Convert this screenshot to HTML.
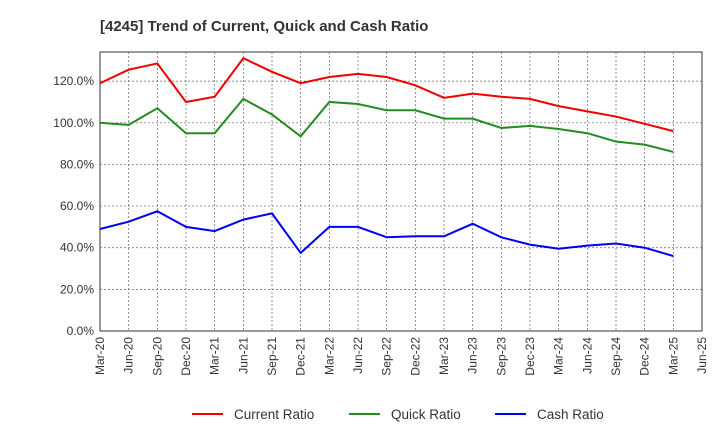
<!DOCTYPE html>
<html><head><meta charset="utf-8"><style>
body{margin:0;background:#fff;font-family:"Liberation Sans",sans-serif;}
svg text{font-family:"Liberation Sans",sans-serif;}
</style></head><body>
<svg width="720" height="440">
<text x="100" y="31" font-size="15" font-weight="bold" fill="#333">[4245]  Trend of Current, Quick and Cash Ratio</text>
<g id="grid"></g>
<g id="axes"></g>
<g id="series"></g>
<g id="legend"></g>
</svg>
<script>
const categories=["Mar-20","Jun-20","Sep-20","Dec-20","Mar-21","Jun-21","Sep-21","Dec-21","Mar-22","Jun-22","Sep-22","Dec-22","Mar-23","Jun-23","Sep-23","Dec-23","Mar-24","Jun-24","Sep-24","Dec-24","Mar-25","Jun-25"];
const currentRatio=[119,125.5,128.5,110,112.5,131,124.5,119,122,123.5,122,118,112,114,112.5,111.5,108,105.5,103,99.5,96];
const quickRatio=[100,99,107,95,95,111.5,104,93.5,110,109,106,106,102,102,97.5,98.5,97,95,91,89.5,86];
const cashRatio=[49,52.5,57.5,50,48,53.5,56.5,37.5,50,50,45,45.5,45.5,51.5,45,41.5,39.5,41,42,40,36];
const yTicks=[0,20,40,60,80,100,120];
const X0=100,X1=702,Y0=331,Y1=52,YMAX=134;
const xs=i=>X0+i*(X1-X0)/(categories.length-1);
const ys=v=>Y0-v/YMAX*(Y0-Y1);
const NS="http://www.w3.org/2000/svg";
function mk(tag,attrs,parent){const e=document.createElementNS(NS,tag);for(const k in attrs)e.setAttribute(k,attrs[k]);parent.appendChild(e);return e;}
const grid=document.getElementById('grid'),axes=document.getElementById('axes'),ser=document.getElementById('series'),leg=document.getElementById('legend');
const frame=mk('rect',{x:X0,y:Y1,width:X1-X0,height:Y0-Y1,fill:'none',stroke:'#333'},grid);


yTicks.forEach(v=>{
 const y=ys(v);
 if(v>0){const l=mk('line',{x1:X0,x2:X1,y1:y,y2:y,stroke:'#666','stroke-dasharray':'2,2','stroke-width':0.7},grid);
 
 }
 const t=mk('text',{x:X0-6,y:y+4,'text-anchor':'end','font-size':12,fill:'#333'},axes);
 t.textContent=v.toFixed(1)+'%';
 
 
});
categories.forEach((c,i)=>{
 const x=xs(i);
 if(i>0&&i<categories.length-1){const l=mk('line',{x1:x,x2:x,y1:Y1,y2:Y0,stroke:'#666','stroke-dasharray':'2,2','stroke-width':0.7},grid);
 
 }
 const t=mk('text',{x:x+4,y:Y0+6,'text-anchor':'end','font-size':12,fill:'#333',transform:`rotate(-90 ${x+4} ${Y0+6})`},axes);
 t.textContent=c;
 
 
});
const series=[[currentRatio,'#f00000','Current Ratio','current-ratio-line'],[quickRatio,'#228b22','Quick Ratio','quick-ratio-line'],[cashRatio,'#0000f0','Cash Ratio','cash-ratio-line']];
series.forEach(([d,col,name,dn])=>{
 const p=mk('polyline',{points:d.map((v,i)=>xs(i)+','+ys(v)).join(' '),fill:'none',stroke:col,'stroke-width':2},ser);
 
 
});
const lx=[192,349,495];
series.forEach(([d,col,name],k)=>{
 const g=mk('g',{},leg);
 
 
 mk('line',{x1:lx[k],x2:lx[k]+31,y1:414,y2:414,stroke:col,'stroke-width':2},g);
 const t=mk('text',{x:lx[k]+42,y:419,'font-size':13.5,fill:'#333'},g);
 t.textContent=name;
});
</script>
</body></html>
